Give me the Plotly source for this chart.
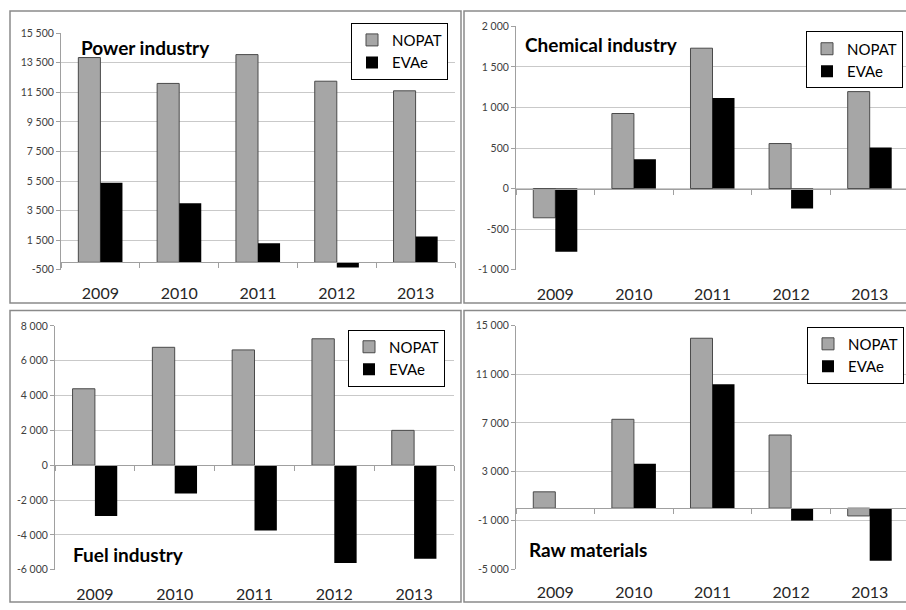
import plotly.graph_objects as go

years = ["2009", "2010", "2011", "2012", "2013"]

power_nopat = [13850, 12100, 14050, 12250, 11600]
power_evae = [5380, 3990, 1290, -350, 1750]

chem_nopat = [-360, 925, 1730, 555, 1195]
chem_evae = [-780, 360, 1115, -245, 505]

fuel_nopat = [4390, 6770, 6620, 7260, 2000]
fuel_evae = [-2910, -1630, -3750, -5610, -5370]

raw_nopat = [1340, 7300, 13960, 6010, -640]
raw_evae = [0, 3650, 10170, -1020, -4320]

power_ticks = [-500, 1500, 3500, 5500, 7500, 9500, 11500, 13500, 15500]
power_ticktext = ["-500", "1 500", "3 500", "5 500", "7 500", "9 500", "11 500", "13 500", "15 500"]
chem_ticks = [-1000, -500, 0, 500, 1000, 1500, 2000]
chem_ticktext = ["-1 000", "-500", "0", "500", "1 000", "1 500", "2 000"]
fuel_ticks = [-6000, -4000, -2000, 0, 2000, 4000, 6000, 8000]
fuel_ticktext = ["-6 000", "-4 000", "-2 000", "0", "2 000", "4 000", "6 000", "8 000"]
raw_ticks = [-5000, -1000, 3000, 7000, 11000, 15000]
raw_ticktext = ["-5 000", "-1 000", "3 000", "7 000", "11 000", "15 000"]

titles = ["Power industry", "Chemical industry", "Fuel industry", "Raw materials"]

W, H = 906, 610
FONT = "Lato, Noto Sans, sans-serif"


def px(x):
    return x / W


def py(y):
    return 1 - y / H


panels = [
    dict(nopat=power_nopat, evae=power_evae, ticks=power_ticks, ticktext=power_ticktext,
         xdom=(61, 455), ydom=(269, 27.7), title=titles[0], tpos=(79, 42), leg=(448, 17)),
    dict(nopat=chem_nopat, evae=chem_evae, ticks=chem_ticks, ticktext=chem_ticktext,
         xdom=(516, 909), ydom=(269, 20.7), title=titles[1], tpos=(523, 39), leg=(903, 26)),
    dict(nopat=fuel_nopat, evae=fuel_evae, ticks=fuel_ticks, ticktext=fuel_ticktext,
         xdom=(55, 454), ydom=(575, 326.3), title=titles[2], tpos=(71, 559), leg=(445, 330)),
    dict(nopat=raw_nopat, evae=raw_evae, ticks=raw_ticks, ticktext=raw_ticktext,
         xdom=(516, 909), ydom=(574.3, 326), title=titles[3], tpos=(527, 554), leg=(904, 327)),
]

fig = go.Figure()
layout = {}
shapes = []
annotations = []

grid_c = "#c9c9c9"
axis_c = "#a0a0a0"

for i, p in enumerate(panels):
    n = i + 1
    xa = "x" if n == 1 else f"x{n}"
    ya = "y" if n == 1 else f"y{n}"
    xkey = "xaxis" if n == 1 else f"xaxis{n}"
    ykey = "yaxis" if n == 1 else f"yaxis{n}"
    legkey = "legend" if n == 1 else f"legend{n}"

    fig.add_trace(go.Bar(x=years, y=p["nopat"], name="NOPAT", xaxis=xa, yaxis=ya,
                         marker=dict(color="#a6a6a6", line=dict(color="#4a4a4a", width=1)),
                         legend=legkey, hoverinfo="x+y"))
    fig.add_trace(go.Bar(x=years, y=p["evae"], name="EVAe", xaxis=xa, yaxis=ya,
                         marker=dict(color="#000000", line=dict(width=0)),
                         legend=legkey, hoverinfo="x+y"))

    ymin, ymax = p["ticks"][0], p["ticks"][-1]
    ydom = [py(p["ydom"][0]), py(p["ydom"][1])]
    # a panel whose plot area runs past the page edge: clip the domain at 1
    # and stretch the category range to keep the same category spacing
    x0p, x1p = p["xdom"]
    x1c = min(x1p, W)
    xdom = [px(x0p), px(x1c)]
    ncat = len(years)
    xrange = [-0.5, -0.5 + ncat * (x1c - x0p) / (x1p - x0p)]

    # category axis drawn on the zero line; labels pushed down to the bottom of the plot
    zpos = ydom[0] + (0 - ymin) / (ymax - ymin) * (ydom[1] - ydom[0])
    standoff = int(round((zpos - ydom[0]) * H + 8))

    layout[xkey] = dict(domain=xdom, anchor="free", position=zpos, type="category",
                        range=xrange,
                        showgrid=False, zeroline=False, showline=True, linecolor=axis_c,
                        linewidth=1, ticks="outside", tickson="boundaries", ticklen=5,
                        tickcolor=axis_c, tickwidth=1,
                        ticklabelstandoff=standoff,
                        tickfont=dict(family=FONT, size=16, color="#262626"),
                        fixedrange=True)
    layout[ykey] = dict(domain=ydom, anchor=xa, range=[ymin, ymax],
                        tickvals=p["ticks"], ticktext=p["ticktext"],
                        showgrid=True, gridcolor=grid_c, gridwidth=1,
                        zeroline=False,
                        showline=True, linecolor=axis_c, linewidth=1,
                        ticks="outside", ticklen=4, tickcolor=axis_c,
                        tickfont=dict(family=FONT, size=10.5, color="#404040"),
                        fixedrange=True)

    layout[legkey] = dict(x=px(p["leg"][0]), y=py(p["leg"][1]), xanchor="right", yanchor="top",
                          bgcolor="white", bordercolor="#000000", borderwidth=1,
                          font=dict(family=FONT, size=15, color="#000000"),
                          itemwidth=30, tracegroupgap=0)

    annotations.append(dict(text=f"<b>{p['title']}</b>", x=px(p["tpos"][0]), y=py(p["tpos"][1]),
                            xref="paper", yref="paper", xanchor="left", yanchor="middle",
                            showarrow=False, font=dict(family=FONT, size=19, color="#000000")))

frames = [(10, 5, 461, 303), (464, 5, 907.5, 303), (10, 310.5, 461, 608), (464, 310.5, 907.5, 608)]
for (x0, y0, x1, y1) in frames:
    shapes.append(dict(type="rect", xref="paper", yref="paper",
                       x0=px(x0), x1=px(x1), y0=py(y1), y1=py(y0),
                       line=dict(color="#8a8a8a", width=1.5), fillcolor="rgba(0,0,0,0)",
                       layer="below"))

fig.update_layout(
    width=W, height=H,
    margin=dict(l=0, r=0, t=0, b=0),
    paper_bgcolor="white", plot_bgcolor="white",
    barmode="group", bargap=0.44, bargroupgap=0,
    shapes=shapes, annotations=annotations,
    **layout,
)

post = """
document.documentElement.style.margin='0';
document.documentElement.style.padding='0';
document.documentElement.style.overflow='hidden';
document.body.style.margin='0';
document.body.style.padding='0';
document.body.style.overflow='hidden';
"""

fig.write_html("out.html", config={"displayModeBar": False}, post_script=post)
